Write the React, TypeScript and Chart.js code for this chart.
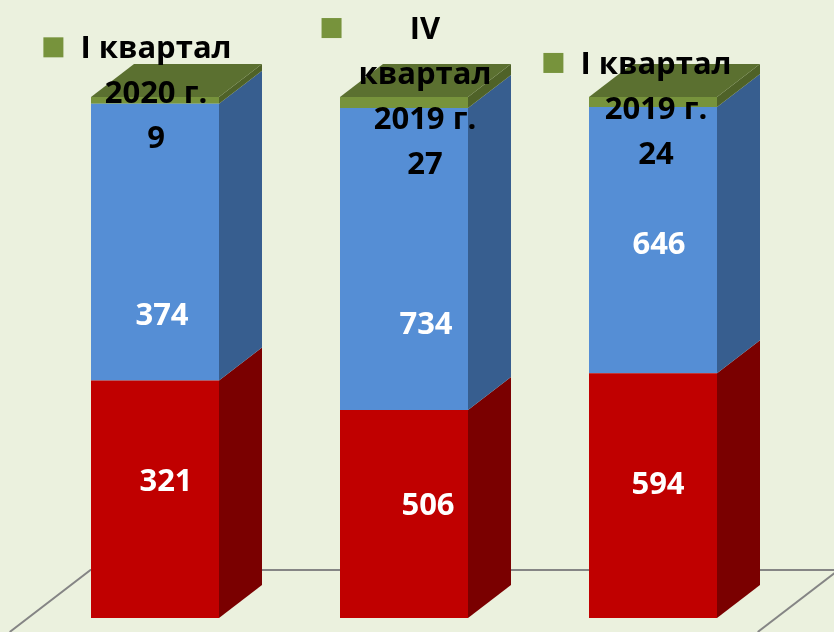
import { useEffect, useRef } from "react";
import { Chart, registerables } from "chart.js";

Chart.register(...registerables);

// ---- data ----
const categories: string[][] = [
  ["I квартал", "2020 г."],
  ["IV", "квартал", "2019 г."],
  ["I квартал", "2019 г."],
];
const redValues = [321, 506, 594];
const blueValues = [374, 734, 646];
const greenValues = [9, 27, 24];

const totals = redValues.map((v, i) => v + blueValues[i] + greenValues[i]);
const pct = (arr: number[]) => arr.map((v, i) => (v / totals[i]) * 100);

// ---- style ----
const BG = "#EBF1DE";
const DX = 43;
const DY = -33;
const FONT = "bold 31px 'Open Sans', 'Liberation Sans', sans-serif";
const LINE_H = 45;

const sideColors = ["#7A0000", "#375E8F", "#4F6228"];
const topColor = "#5B7030";
const labelColors = ["#FFFFFF", "#FFFFFF", "#000000"];
const legendKeyColor = "#77933C";
// label nudges [dx, dy] per dataset per column (layout only)
const labelNudge = [
  [[11, -17], [24, -8], [5, -10]],
  [[7, 74], [22, 66], [6, 5]],
  [[1, -6], [21, -5], [3, 8]],
];

function quad(ctx: CanvasRenderingContext2D, pts: number[][]) {
  ctx.beginPath();
  ctx.moveTo(pts[0][0], pts[0][1]);
  for (let k = 1; k < pts.length; k++) ctx.lineTo(pts[k][0], pts[k][1]);
  ctx.closePath();
  ctx.fill();
}

const cube3d = {
  id: "cube3d",
  beforeDatasetsDraw(chart: any) {
    const { ctx, chartArea } = chart;
    const y = chart.scales.y;
    const base = y.getPixelForValue(0);
    const backY = base - 48;
    const H = chart.height - backY;
    const run = (H * DX) / -DY;
    ctx.save();
    ctx.strokeStyle = "#858585";
    ctx.lineWidth = 2;
    const lx = chartArea.left + 60;
    const rx = chartArea.right + 61;
    ctx.beginPath();
    ctx.moveTo(chart.width + 5, backY);
    ctx.lineTo(lx, backY);
    ctx.lineTo(lx - run, chart.height);
    ctx.stroke();
    ctx.beginPath();
    ctx.moveTo(rx, backY);
    ctx.lineTo(rx - run, chart.height);
    ctx.stroke();
    ctx.restore();
  },
  afterDatasetsDraw(chart: any) {
    const { ctx } = chart;
    const n = chart.data.datasets.length;
    ctx.save();
    for (let di = 0; di < n; di++) {
      const meta = chart.getDatasetMeta(di);
      meta.data.forEach((bar: any) => {
        const { x, y, base, width } = bar.getProps(["x", "y", "base", "width"], true);
        const left = x - width / 2;
        const right = x + width / 2;
        ctx.fillStyle = sideColors[di];
        quad(ctx, [
          [right, y],
          [right + DX, y + DY],
          [right + DX, base + DY],
          [right, base],
        ]);
        if (di === n - 1) {
          ctx.fillStyle = topColor;
          quad(ctx, [
            [left, y],
            [right, y],
            [right + DX, y + DY],
            [left + DX, y + DY],
          ]);
        }
      });
    }
    ctx.restore();
  },
  afterDraw(chart: any) {
    const { ctx } = chart;
    const raw = [redValues, blueValues, greenValues];
    ctx.save();
    ctx.font = FONT;
    ctx.textBaseline = "middle";
    ctx.textAlign = "center";
    for (let di = 0; di < 3; di++) {
      const meta = chart.getDatasetMeta(di);
      meta.data.forEach((bar: any, i: number) => {
        const { x, y, base } = bar.getProps(["x", "y", "base"], true);
        const cx = x + labelNudge[di][i][0];
        const cy = (y + base) / 2 + labelNudge[di][i][1];
        ctx.fillStyle = labelColors[di];
        if (di < 2) {
          ctx.fillText(String(raw[di][i]), cx, cy);
        } else {
          const lines = [...categories[i], String(raw[di][i])];
          const top = cy - ((lines.length - 1) * LINE_H) / 2;
          let maxW = 0;
          lines.forEach((l) => (maxW = Math.max(maxW, ctx.measureText(l).width)));
          lines.forEach((l, k) => ctx.fillText(l, cx, top + k * LINE_H));
          ctx.fillStyle = legendKeyColor;
          ctx.fillRect(cx - maxW / 2 - 37, top - 12, 20, 20);
        }
      });
    }
    ctx.restore();
  },
};

export default function App() {
  const ref = useRef<HTMLCanvasElement | null>(null);
  useEffect(() => {
    if (!ref.current) return;
    const chart = new Chart(ref.current, {
      type: "bar",
      data: {
        labels: categories.map((c) => c.join(" ")),
        datasets: [
          { label: "Ряд1", data: pct(redValues), backgroundColor: "#C00000", borderWidth: 0 },
          { label: "Ряд2", data: pct(blueValues), backgroundColor: "#558ED5", borderWidth: 0 },
          { label: "Ряд3", data: pct(greenValues), backgroundColor: "#77933C", borderWidth: 0 },
        ],
      },
      options: {
        animation: false,
        responsive: false,
        devicePixelRatio: 1,
        layout: { padding: { left: 30.5, right: 56.5, top: 97, bottom: 14 } },
        datasets: { bar: { categoryPercentage: 1, barPercentage: 128 / 249 } },
        plugins: { legend: { display: false }, tooltip: { enabled: false } },
        scales: {
          x: { stacked: true, display: false },
          y: { stacked: true, display: false, min: 0, max: 100 },
        },
      },
      plugins: [cube3d],
    });
    return () => chart.destroy();
  }, []);
  return (
    <div style={{ position: "fixed", left: 0, top: 0, width: 834, height: 632, background: BG }}>
      <canvas ref={ref} width={834} height={632} />
    </div>
  );
}
